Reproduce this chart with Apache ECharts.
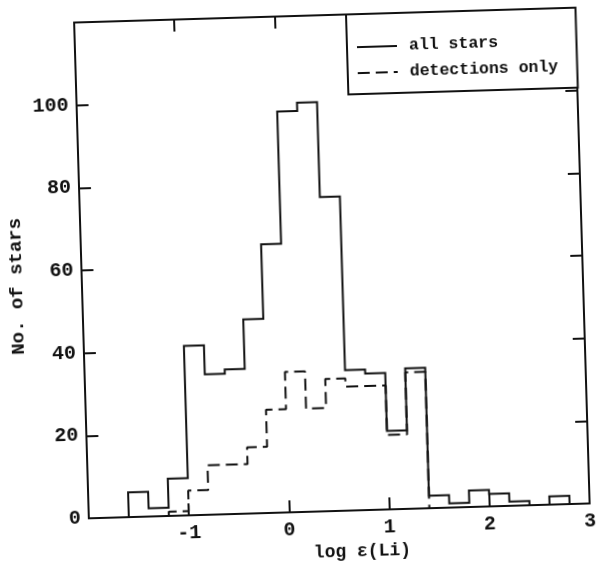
<!DOCTYPE html>
<html>
<head>
<meta charset="utf-8">
<script src="https://cdn.jsdelivr.net/npm/echarts@6/dist/echarts.min.js"></script>
<style>
  html, body { margin: 0; padding: 0; background: #ffffff; overflow: hidden; }
  /* the printed figure sits slightly askew on its page */
  #chart { width: 597px; height: 569px; transform: rotate(-1.7deg); transform-origin: 50% 50%; }
</style>
</head>
<body>
<div id="chart"></div>
<script>
// Lithium abundance histogram: lower edge of each 0.2-dex bin
const binLo = [-1.6, -1.4, -1.2, -1.0, -0.8, -0.6, -0.4, -0.2, 0.0, 0.2, 0.4, 0.6,
               0.8, 1.0, 1.2, 1.4, 1.6, 1.8, 2.0, 2.2, 2.4, 2.6, 2.8];
const binWidth = 0.2;

// Number of stars per bin
const allStars =       [6, 2, 9, 41, 34, 35, 47, 65, 97, 99, 76, 34,
                        33, 19, 34, 3, 1, 4, 3, 1, 0, 2, 0];
const detectionsOnly = [0, 0, 1, 6, 12, 12, 16, 25, 34, 25, 32, 30,
                        30, 18, 33, 0, 0, 0, 0, 0, 0, 0, 0];

const seriesNames = ['all stars', 'detections only'];
const xTicks = [-2, -1, 0, 1, 2, 3];
const yTicks = [0, 20, 40, 60, 80, 100, 120];

const FONT = '"Liberation Mono", "Courier New", monospace';
const INK = '#111111';

// Turn bin counts into an outline polyline (histogram steps), trimmed to the
// span of non-empty bins when requested.
function stepOutline(lo, counts, width, trim) {
  let first = 0, last = counts.length - 1;
  if (trim) {
    while (first < last && counts[first] === 0) first++;
    while (last > first && counts[last] === 0) last--;
  }
  const pts = [[lo[first], 0]];
  for (let i = first; i <= last; i++) {
    const hi = +(lo[i] + width).toFixed(4);
    pts.push([lo[i], counts[i]], [hi, counts[i]]);
  }
  pts.push([+(lo[last] + width).toFixed(4), 0]);
  return pts;
}

const tickLabelStyle = {
  fontFamily: FONT, fontWeight: 'bold', fontSize: 20, color: INK
};

const frameAxis = {
  axisLine: { show: true, onZero: false, lineStyle: { color: INK, width: 2 } },
  axisTick: { show: true, inside: true, length: 12, lineStyle: { color: INK, width: 2 } },
  splitLine: { show: false },
  minorTick: { show: false }
};

const chart = echarts.init(document.getElementById('chart'), null, { renderer: 'canvas' });

chart.setOption({
  animation: false,
  backgroundColor: '#ffffff',
  grid: { left: 78, right: 14, top: 16, bottom: 57, containLabel: false },
  legend: {
    data: seriesNames,
    orient: 'vertical',
    left: 354,
    top: 16,
    itemWidth: 40,
    itemHeight: 14,
    itemGap: 6,
    padding: [23, 19, 11, 9],
    borderColor: INK,
    borderWidth: 2,
    borderRadius: 0,
    backgroundColor: '#ffffff',
    selectedMode: false,
    itemStyle: { color: 'transparent', borderWidth: 0, opacity: 0 },
    textStyle: {
      fontFamily: FONT, fontWeight: 'bold', fontSize: 16.5, color: INK,
      lineHeight: 20, padding: [0, 0, 0, 7]
    }
  },
  xAxis: [
    Object.assign({}, frameAxis, {
      type: 'value', position: 'bottom',
      min: xTicks[0], max: xTicks[xTicks.length - 1], interval: 1,
      axisLabel: Object.assign({ margin: 8, showMinLabel: false }, tickLabelStyle),
      name: 'log ε(Li)',
      nameLocation: 'middle',
      nameGap: 32,
      nameTextStyle: {
        fontFamily: FONT, fontWeight: 'bold', fontSize: 18, color: INK,
        padding: [0, 0, 0, 44]
      }
    }),
    Object.assign({}, frameAxis, {
      type: 'value', position: 'top',
      min: xTicks[0], max: xTicks[xTicks.length - 1], interval: 1,
      axisLabel: { show: false }
    })
  ],
  yAxis: [
    Object.assign({}, frameAxis, {
      type: 'value', position: 'left',
      min: yTicks[0], max: yTicks[yTicks.length - 1], interval: 20,
      axisLabel: Object.assign({ margin: 8, showMaxLabel: false }, tickLabelStyle),
      name: 'No. of stars',
      nameLocation: 'middle',
      nameRotate: 90,
      nameGap: 50,
      nameTextStyle: {
        fontFamily: FONT, fontWeight: 'bold', fontSize: 19, color: INK,
        padding: [0, 28, 0, 0]
      }
    }),
    Object.assign({}, frameAxis, {
      type: 'value', position: 'right',
      min: yTicks[0], max: yTicks[yTicks.length - 1], interval: 20,
      axisLabel: { show: false }
    })
  ],
  series: [
    {
      name: seriesNames[0],
      type: 'line',
      xAxisIndex: 0, yAxisIndex: 0,
      data: stepOutline(binLo, allStars, binWidth, false),
      symbol: 'none',
      showSymbol: false,
      clip: false,
      z: 3,
      lineStyle: { color: INK, width: 2, join: 'miter', cap: 'butt' },
      itemStyle: { color: INK }
    },
    {
      name: seriesNames[1],
      type: 'line',
      xAxisIndex: 0, yAxisIndex: 0,
      data: stepOutline(binLo, detectionsOnly, binWidth, true),
      symbol: 'none',
      showSymbol: false,
      clip: false,
      z: 2,
      lineStyle: { color: INK, width: 2, type: [12, 6], cap: 'butt' },
      itemStyle: { color: INK }
    }
  ]
});
</script>
</body>
</html>
